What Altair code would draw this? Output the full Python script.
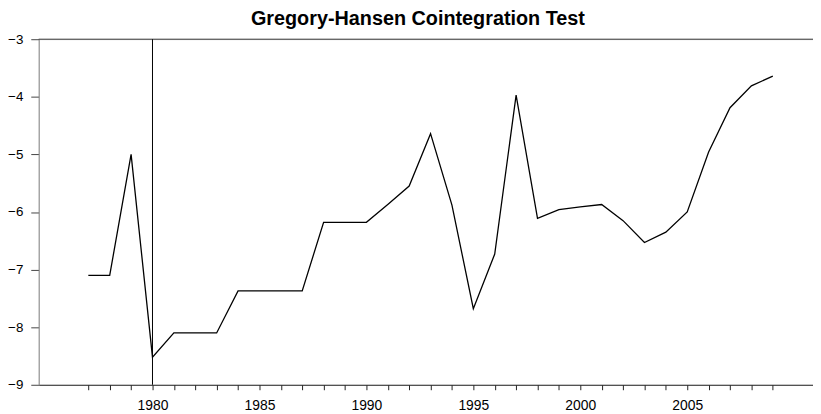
import altair as alt
import pandas as pd

years = list(range(1977, 2010))
stat = [-7.10, -7.10, -5.00, -8.52, -8.10, -8.10, -8.10, -7.37, -7.37, -7.37,
        -7.37, -6.18, -6.18, -6.18, -5.87, -5.55, -4.64, -5.88, -7.68, -6.73,
        -3.97, -6.11, -5.96, -5.91, -5.87, -6.15, -6.53, -6.35, -6.00, -4.96,
        -4.19, -3.81, -3.64]
break_year = [1980]
y_ticks = [-3, -4, -5, -6, -7, -8, -9]
title_text = "Gregory-Hansen Cointegration Test"

df = pd.DataFrame({"year": years, "stat": stat})
FONT = "Liberation Sans"

x_scale = alt.Scale(domain=[1974.68, 2010.88], nice=False, zero=False)
y_scale = alt.Scale(domain=[-9, -3], nice=False, zero=False)

x_axis = alt.Axis(
    values=years, format="d",
    labelExpr="datum.value % 5 == 0 ? datum.label : ''",
    tickSize=5, tickColor="#222", domainColor="#222", domainWidth=1,
    labelOverlap=False, grid=False, title=None, labelFontSize=14,
    labelPadding=8.5, labelFont=FONT, labelColor="black", labelFlush=False,
    labelBound=False,
)
y_axis = alt.Axis(
    values=y_ticks, format="d", tickSize=8, tickColor="#444",
    domainColor="#888", domainWidth=1, grid=False, title=None,
    labelFontSize=13.5, labelPadding=8, labelFont=FONT, labelColor="black",
    labelFlush=False, labelOverlap=False,
)

line = alt.Chart(df).mark_line(color="black", strokeWidth=1.3).encode(
    x=alt.X("year:Q", scale=x_scale, axis=x_axis),
    y=alt.Y("stat:Q", scale=y_scale, axis=y_axis),
)

vline = alt.Chart(pd.DataFrame({"year": break_year})).mark_rule(
    color="black", strokeWidth=1
).encode(x=alt.X("year:Q", scale=x_scale, axis=x_axis))

top_line = alt.Chart(pd.DataFrame({"stat": [y_ticks[0]]})).mark_rule(
    color="#333", strokeWidth=1
).encode(y=alt.Y("stat:Q", scale=y_scale, axis=y_axis))

chart = alt.layer(line, top_line, vline).properties(
    width=782, height=349,
    title=alt.TitleParams(title_text, font=FONT, fontSize=20, fontWeight="bold",
                          anchor="middle", dx=-8, dy=1, color="black"),
    autosize=alt.AutoSizeParams(type="none"),
    padding={"left": 31, "top": 29.5, "right": 0, "bottom": 28},
).configure_view(stroke=None).configure_axis(labelOverlap=False).configure(background="white")

chart.save("out.html", embed_options={"renderer": "svg", "actions": False})
